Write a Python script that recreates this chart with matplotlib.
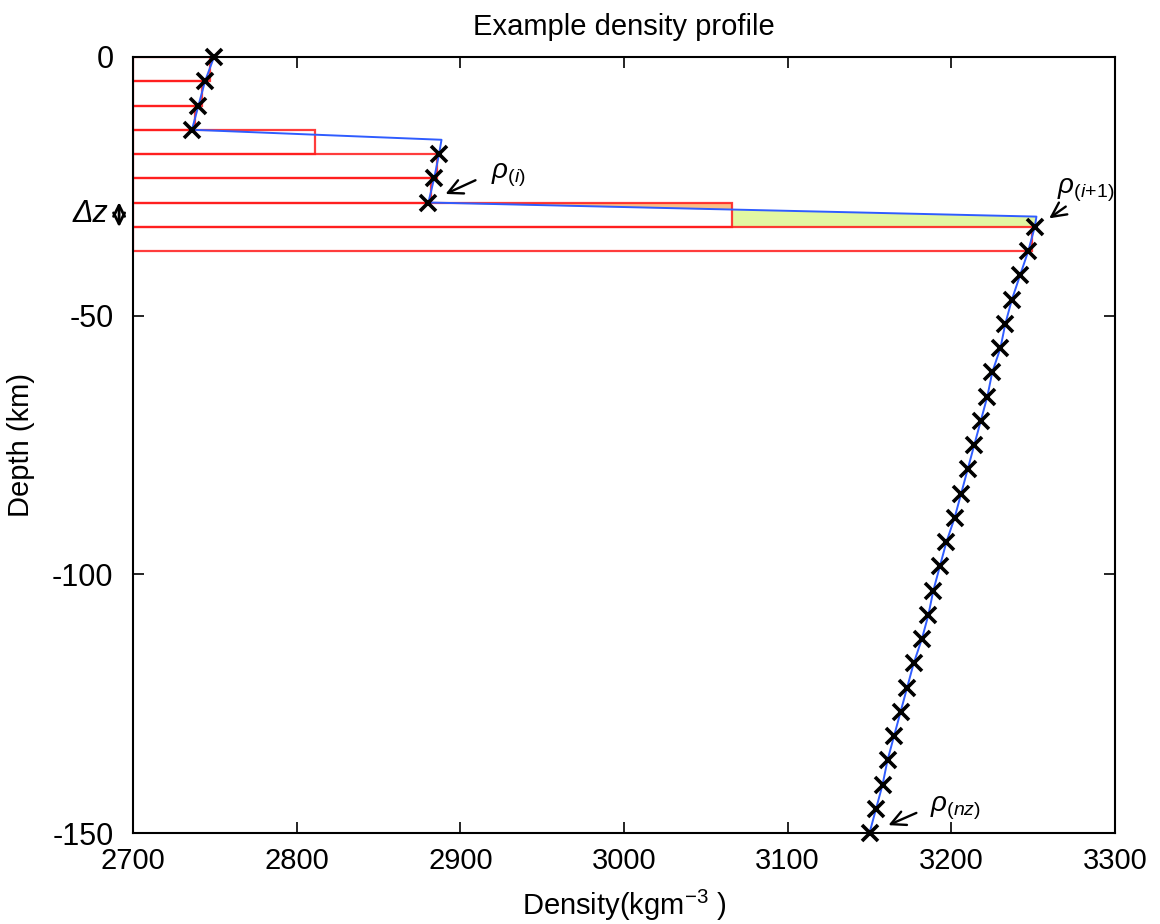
import numpy as np
import matplotlib
matplotlib.use('Agg')
import matplotlib.pyplot as plt
from matplotlib.patches import Rectangle

plt.rcParams['font.family'] = ['Liberation Sans', 'DejaVu Sans']
plt.rcParams['axes.unicode_minus'] = False
plt.rcParams['mathtext.fontset'] = 'custom'
plt.rcParams['mathtext.rm'] = 'Liberation Sans'
plt.rcParams['mathtext.it'] = 'Liberation Sans:italic'

# model grid (km) and sampled density (kg/m^3)
depth = [0, -4.6875, -9.375, -14.0625, -18.75, -23.4375, -28.125, -32.8125,
         -37.5, -42.1875, -46.875, -51.5625, -56.25, -60.9375, -65.625, -70.3125,
         -75, -79.6875, -84.375, -89.0625, -93.75, -98.4375, -103.125, -107.8125,
         -112.5, -117.1875, -121.875, -126.5625, -131.25, -135.9375, -140.625,
         -145.3125, -150]
rho = [2749.5, 2744, 2740, 2736,
       2887, 2884, 2880.5,
       3251, 3247, 3242, 3237, 3233, 3230, 3225, 3222, 3218, 3214, 3210, 3206,
       3202, 3197, 3193, 3189, 3186, 3182, 3177, 3173, 3169, 3165, 3161, 3158,
       3154, 3150]

# true profile points at the two interfaces
iface_rho = [2888.5, 3252]
iface_z = [-16.0, -30.85]

nlayers_shown = 8
i_layer = 6   # layer with rho_(i) on top

blue_rho = rho[:4] + [iface_rho[0]] + rho[4:7] + [iface_rho[1]] + rho[7:]
blue_z = depth[:4] + [iface_z[0]] + depth[4:7] + [iface_z[1]] + depth[7:]

fig = plt.figure(figsize=(11.6, 9.24), dpi=100)
ax = fig.add_axes([133/1160, 1-833/924, (1115-133)/1160, (833-57)/924])

# layer boxes, width = mean density of the two bounding samples
for k in range(nlayers_shown):
    w = 0.5*(rho[k] + rho[k+1])
    ax.add_patch(Rectangle((2700, depth[k+1]), w-2700, depth[k]-depth[k+1],
                           fill=False, edgecolor='#ff1a1a', lw=1.6, alpha=0.85, zorder=2))

# excess / deficit shading in layer i
w_i = 0.5*(rho[i_layer] + rho[i_layer+1])
seg_x = [rho[i_layer], iface_rho[1]]
seg_z = [depth[i_layer], iface_z[1]]
xo = np.linspace(rho[i_layer], w_i, 50)
ax.fill_between(xo, np.interp(xo, seg_x, seg_z), depth[i_layer],
                color='#fbbf86', lw=0, zorder=1)
xg = np.linspace(w_i, rho[i_layer+1], 50)
ax.fill_between(xg, np.interp(xg, seg_x, seg_z), depth[i_layer+1],
                color='#e2f7a2', lw=0, zorder=1)

ax.plot(blue_rho, blue_z, color='#2f5cff', lw=1.4, zorder=3)
ax.plot(rho, depth, 'x', color='black', ms=12, mew=2.6, zorder=4, clip_on=False)

# annotations
arr = dict(arrowstyle='->', color='black', lw=1.7, mutation_scale=26)
ax.annotate('', xy=(2889.4, -26.7), xytext=(2910.8, -23.6), arrowprops=arr)
ax.text(2919, -23.4, r'$\rho_{(i)}$', fontsize=20, ha='left', va='baseline')
ax.annotate('', xy=(3258.4, -31.5), xytext=(3271.3, -28.6), arrowprops=arr,
            annotation_clip=False)
ax.text(3264.5, -26.3, r'$\rho_{(i\!+\!1)}$', fontsize=20, ha='left', va='baseline')
ax.annotate('', xy=(3160, -148.7), xytext=(3180.2, -145.9), arrowprops=arr)
ax.text(3187, -145.9, r'$\rho_{(nz)}$', fontsize=20, ha='left', va='baseline')

# delta z marker
ax.annotate('', xy=(2691.5, depth[6]+0.6), xytext=(2691.5, depth[7]-0.6),
            arrowprops=dict(arrowstyle='<->', color='black', lw=2, mutation_scale=20),
            annotation_clip=False)
ax.text(2685, -30.4, '\u0394z', fontsize=22, style='italic', ha='right', va='center')

ax.set_xlim(2700, 3300)
ax.set_ylim(-150, 0)
ax.set_xticks(np.arange(2700, 3301, 100))
ax.set_yticks([-150, -100, -50, 0])
ax.tick_params(direction='in', length=8, width=1.2, top=True, right=True, labelsize=21)
ax.tick_params(axis='x', pad=10)
ax.tick_params(axis='y', pad=14, labelsize=22)
for s in ax.spines.values():
    s.set_linewidth(1.5)

ax.set_title('Example density profile', fontsize=21, pad=16)
ax.set_xlabel(r'Density(kgm$^{-3}$ )', fontsize=21, labelpad=9)
ax.set_ylabel('Depth (km)', fontsize=21, labelpad=12)

plt.savefig('out.png', dpi=100)
